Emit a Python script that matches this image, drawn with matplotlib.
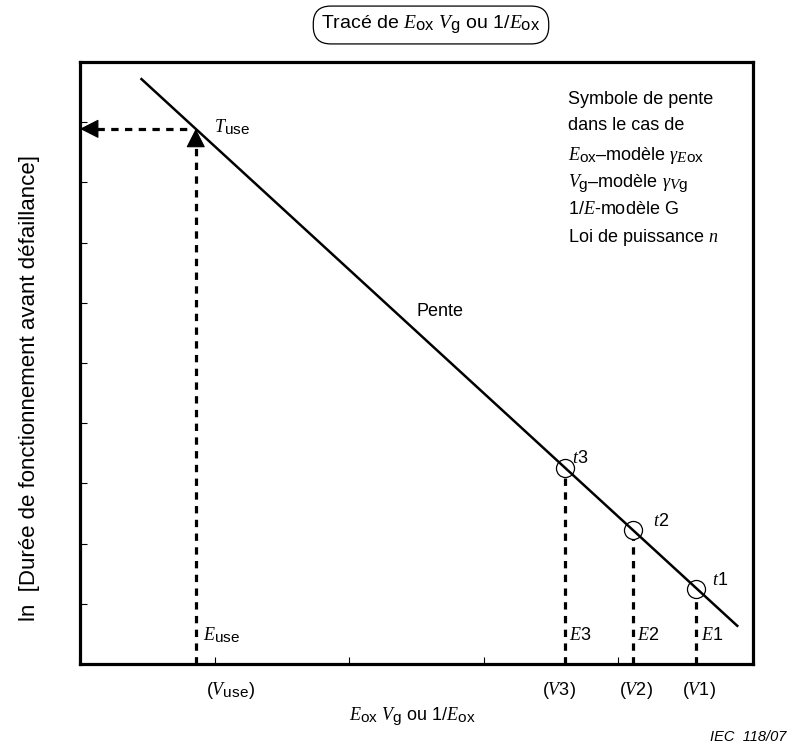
import matplotlib.pyplot as plt
import matplotlib._mathtext as mathtext

# Droite de vieillissement (extrémités) et points de mesure
line_x = [0.45, 4.89]
line_y = [9.73, 0.62]
use_x, use_y = 0.86, 8.89
pt_x = [3.60, 4.11, 4.58]
pt_y = [3.26, 2.23, 1.25]
pt_idx = ['3', '2', '1']

xticks = [1, 2, 3, 4]
yticks = [1, 2, 3, 4, 5, 6, 7, 8, 9]

plt.rcParams['font.family'] = ['Liberation Sans', 'DejaVu Sans']
plt.rcParams['mathtext.fontset'] = 'custom'
plt.rcParams['mathtext.rm'] = 'Liberation Sans'
plt.rcParams['mathtext.sf'] = 'Liberation Sans'
plt.rcParams['mathtext.it'] = 'Liberation Serif:italic'
plt.rcParams['mathtext.bf'] = 'Liberation Sans:bold'
# indices presque à taille normale
mathtext.SHRINK_FACTOR = 0.85

FS = 13
dash = (0, (2.3, 2.0))

fig = plt.figure(figsize=(7.9, 7.49), dpi=100)
ax = fig.add_axes([80/790, 85/749, 673/790, 602/749])
ax.set_xlim(0, 5)
ax.set_ylim(0, 10)
for s in ax.spines.values():
    s.set_linewidth(2.3)
ax.set_xticks(xticks)
ax.set_yticks(yticks)
ax.tick_params(direction='in', length=5, width=0.8, labelbottom=False, labelleft=False)

# droite
ax.plot(line_x, line_y, color='black', lw=1.8, solid_capstyle='butt')

# points t1..t3 et leurs projections
ax.plot(pt_x, pt_y, 'o', ms=13, mfc='none', mec='black', mew=0.9)
t_off = [(5, 7), (14, 6), (11, 6)]
for x, y, k, off in zip(pt_x, pt_y, pt_idx, t_off):
    ax.plot([x, x], [0, y - 0.15], color='black', lw=2.3, ls=dash)
    ax.annotate(r'$t$' + k, (x, y), xytext=off, textcoords='offset points',
                ha='left', va='center', fontsize=FS)
    ax.annotate(r'$E$' + k, (x, 0.48), xytext=(3, 0), textcoords='offset points',
                ha='left', va='center', fontsize=FS)

# point d'utilisation
ax.plot([use_x, use_x], [0, use_y - 0.25], color='black', lw=2.3, ls=dash)
ax.plot([0.13, use_x - 0.05], [use_y, use_y], color='black', lw=2.3, ls=dash)
head = dict(arrowstyle='-|>,head_length=0.75,head_width=0.38', color='black',
            lw=0.8, shrinkA=0, shrinkB=0, mutation_scale=16)
ax.annotate('', xy=(0, use_y), xytext=(12, 0), textcoords='offset points', arrowprops=head)
ax.annotate('', xy=(use_x, use_y), xytext=(0, -12), textcoords='offset points', arrowprops=head)
ax.annotate(r'$T_{\mathrm{use}}$', (use_x, use_y), xytext=(13, 1), textcoords='offset points',
            ha='left', va='center', fontsize=FS)
ax.annotate(r'$E_{\mathrm{use}}$', (use_x, 0.48), xytext=(5, 0), textcoords='offset points',
            ha='left', va='center', fontsize=FS)

# étiquettes sous l'axe
xlab = ax.get_xaxis_transform()
ax.annotate(r'($V_{\mathrm{use}}$)', (use_x, 0), xycoords=xlab, xytext=(25, -19),
            textcoords='offset points', ha='center', va='center', fontsize=FS)
v_off = [-4, 2, 2]
for x, k, o in zip(pt_x, pt_idx, v_off):
    ax.annotate(r'($V$' + k + ')', (x, 0), xycoords=xlab, xytext=(o, -19),
                textcoords='offset points', ha='center', va='center', fontsize=FS)

ax.text(440/790, 1 - 312/749, 'Pente', transform=fig.transFigure,
        ha='center', va='center', fontsize=FS)

legend_lines = ['Symbole de pente',
                'dans le cas de',
                r'$E_{\mathrm{ox}}$–modèle $\gamma_{E\mathrm{ox}}$',
                r'$V_{\mathrm{g}}$–modèle $\gamma_{V\mathrm{g}}$',
                r'1/$E$-modèle G',
                r'Loi de puissance $n$']
legend_y = [99, 126, 156, 184, 210, 237]
for s, y in zip(legend_lines, legend_y):
    fig.text(568/790, 1 - y/749, s, ha='left', va='center', fontsize=FS)

fig.text(431/790, 1 - 25/749, r'Tracé de $E_{\mathrm{ox}}$ $V_{\mathrm{g}}$ ou 1/$E_{\mathrm{ox}}$ ',
         ha='center', va='center', fontsize=14,
         bbox=dict(boxstyle='round,pad=0.4,rounding_size=0.9', fc='white', ec='black', lw=0.9))

fig.text(412/790, 1 - 717/749, r'$E_{\mathrm{ox}}$ $V_{\mathrm{g}}$ ou 1/$E_{\mathrm{ox}}$',
         ha='center', va='center', fontsize=FS)
fig.text(30/790, 1 - 388/749, 'ln  [Durée de fonctionnement avant défaillance]',
         rotation=90, ha='center', va='center', fontsize=16)
fig.text(786/790, 1 - 737/749, 'IEC  118/07', ha='right', va='center',
         fontsize=10.5, style='italic')

fig.savefig('out.png', dpi=100)
